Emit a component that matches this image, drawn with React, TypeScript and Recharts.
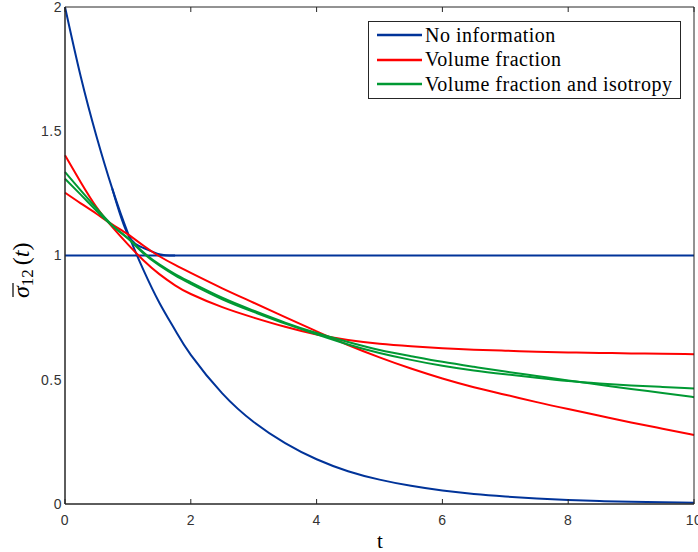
import { LineChart, Line, XAxis, YAxis, Legend } from 'recharts';

const tValues = [0, 0.25, 0.5, 0.75, 1, 1.25, 1.5, 1.75, 2, 2.5, 3, 3.5, 4, 4.5, 5, 5.5, 6, 6.5, 7, 7.5, 8, 8.5, 9, 9.5, 10];

// No information (blue)
const noInfoDecay = [2.0, 1.72, 1.48, 1.27, 1.09, 0.94, 0.81, 0.7, 0.6, 0.445, 0.33, 0.245, 0.18, 0.132, 0.098, 0.073, 0.054, 0.04, 0.03, 0.022, 0.016, 0.012, 0.009, 0.007, 0.005];
const noInfoFlat = [1, 1, 1, 1, 1, 1, 1, 1, 1, 1, 1, 1, 1, 1, 1, 1, 1, 1, 1, 1, 1, 1, 1, 1, 1];
const noInfoBranch = [null, null, null, 1.27, 1.085, 1.03, 1.005, 1.0, null, null, null, null, null, null, null, null, null, null, null, null, null, null, null, null, null];

// Volume fraction (red)
const volFracA = [1.403, 1.295, 1.195, 1.115, 1.045, 0.98, 0.925, 0.88, 0.845, 0.792, 0.75, 0.713, 0.682, 0.66, 0.645, 0.635, 0.627, 0.621, 0.617, 0.613, 0.61, 0.608, 0.606, 0.605, 0.603];
const volFracB = [1.253, 1.21, 1.168, 1.125, 1.085, 1.039, 0.997, 0.962, 0.93, 0.868, 0.81, 0.752, 0.695, 0.64, 0.59, 0.545, 0.505, 0.47, 0.44, 0.41, 0.382, 0.355, 0.328, 0.303, 0.278];

// Volume fraction and isotropy (green)
const isoA = [1.309, 1.245, 1.18, 1.12, 1.07, 1.012, 0.964, 0.925, 0.892, 0.83, 0.778, 0.73, 0.688, 0.652, 0.62, 0.595, 0.572, 0.552, 0.533, 0.515, 0.497, 0.48, 0.463, 0.447, 0.43];
const isoB = [1.336, 1.262, 1.19, 1.122, 1.068, 1.008, 0.96, 0.92, 0.886, 0.824, 0.773, 0.726, 0.683, 0.642, 0.608, 0.58, 0.556, 0.537, 0.522, 0.508, 0.495, 0.485, 0.477, 0.471, 0.465];

const xTicks = [0, 2, 4, 6, 8, 10];
const yTicks = [0, 0.5, 1, 1.5, 2];
const yTickLabels = ['0', '0.5', '1', '1.5', '2'];

const legendNames = ['No information', 'Volume fraction', 'Volume fraction and isotropy'];

const BLUE = '#003399';
const RED = '#ff0000';
const GREEN = '#009933';
const legendColors = [BLUE, RED, GREEN];

const AXIS = '#262626';

const data = tValues.map((t, i) => ({
  t,
  decay: noInfoDecay[i],
  flat: noInfoFlat[i],
  branch: noInfoBranch[i],
  redA: volFracA[i],
  redB: volFracB[i],
  greenA: isoA[i],
  greenB: isoB[i],
}));

const tickStyle = { fontFamily: '"Liberation Sans", Arial, sans-serif', fontSize: 14, fill: '#333', letterSpacing: 0.5 };
const tickLineStyle = { stroke: AXIS, strokeWidth: 1 };
const blank = () => '';
const THIN = 0.001; // tick-only axes: no room taken, but still rendered

function LegendBox() {
  return (
    <div
      style={{
        width: 313,
        height: 78,
        boxSizing: 'border-box',
        border: `1px solid ${AXIS}`,
        background: '#fff',
        paddingTop: 1,
      }}
    >
      {legendNames.map((name, i) => (
        <div key={name} style={{ height: 24.5, display: 'flex', alignItems: 'center' }}>
          <svg width={53} height={6} style={{ display: 'block' }}>
            <line x1={8} x2={53} y1={3} y2={3} stroke={legendColors[i]} strokeWidth={2.5} />
          </svg>
          <span
            style={{
              marginLeft: 3,
              fontFamily: '"Liberation Serif", "Times New Roman", serif',
              fontSize: 20,
              letterSpacing: 0.5,
              color: '#000',
              whiteSpace: 'nowrap',
            }}
          >
            {name}
          </span>
        </div>
      ))}
    </div>
  );
}

const renderYLabel = () => (
  <g transform="translate(29, 272) rotate(-90)">
    <line x1={-25} x2={-11} y1={-16} y2={-16} stroke="#000" strokeWidth={1.2} />
    <text x={-26} y={0} fontFamily='"Liberation Serif", "Times New Roman", serif' fontSize={24} fill="#000">
      <tspan fontStyle="italic">σ</tspan>
      <tspan fontSize={17} dy={4}>12</tspan>
      <tspan dy={-4} dx={4}>(</tspan>
      <tspan fontStyle="italic">t</tspan>
      <tspan>)</tspan>
    </text>
  </g>
);

const renderXLabel = () => (
  <text x={380} y={548} textAnchor="middle" fontFamily='"Liberation Serif", "Times New Roman", serif' fontSize={21} fill="#000">
    t
  </text>
);

export default function App() {
  return (
    <div style={{ position: 'absolute', left: 0, top: 0, width: 698, height: 552, background: '#fff' }}>
      <LineChart width={698} height={552} data={data} margin={{ top: 7, right: 4, bottom: 0, left: 0 }}>
        <XAxis
          dataKey="t"
          type="number"
          domain={[0, 10]}
          ticks={xTicks}
          interval={0}
          height={48}
          stroke={AXIS}
          tickLine={false}
          tickSize={0}
          tickMargin={11}
          tick={tickStyle}
          label={renderXLabel}
        />
        <YAxis
          type="number"
          domain={[0, 2]}
          ticks={yTicks}
          interval={0}
          tickFormatter={(v: number) => yTickLabels[yTicks.indexOf(v)] ?? String(v)}
          width={65}
          stroke={AXIS}
          tickLine={false}
          tickSize={0}
          tickMargin={3}
          tick={tickStyle}
          label={renderYLabel}
        />
        {/* inward tick marks on all four sides (MATLAB box) */}
        <XAxis
          xAxisId="bottomTicks"
          dataKey="t"
          type="number"
          domain={[0, 10]}
          ticks={xTicks}
          interval={0}
          height={THIN}
          mirror
          stroke={AXIS}
          tickLine={tickLineStyle}
          tickSize={5}
          tickFormatter={blank}
        />
        <XAxis
          xAxisId="top"
          orientation="top"
          dataKey="t"
          type="number"
          domain={[0, 10]}
          ticks={xTicks}
          interval={0}
          height={THIN}
          mirror
          stroke={AXIS}
          tickLine={tickLineStyle}
          tickSize={5}
          tickFormatter={blank}
        />
        <YAxis
          yAxisId="leftTicks"
          type="number"
          domain={[0, 2]}
          ticks={yTicks}
          interval={0}
          width={THIN}
          mirror
          stroke={AXIS}
          tickLine={tickLineStyle}
          tickSize={6}
          tickFormatter={blank}
        />
        <YAxis
          yAxisId="right"
          orientation="right"
          type="number"
          domain={[0, 2]}
          ticks={yTicks}
          interval={0}
          width={THIN}
          mirror
          stroke={AXIS}
          tickLine={tickLineStyle}
          tickSize={6}
          tickFormatter={blank}
        />
        <Legend
          layout="vertical"
          align="center"
          verticalAlign="middle"
          content={() => <LegendBox />}
          wrapperStyle={{ position: 'absolute', left: 368, top: 21, width: 313, height: 78 }}
        />
        <Line dataKey="flat" type="linear" stroke={BLUE} strokeWidth={2} dot={false} isAnimationActive={false} />
        <Line dataKey="decay" type="natural" stroke={BLUE} strokeWidth={2} dot={false} isAnimationActive={false} />
        <Line dataKey="branch" type="natural" stroke={BLUE} strokeWidth={2} dot={false} isAnimationActive={false} />
        <Line dataKey="redA" type="natural" stroke={RED} strokeWidth={2} dot={false} isAnimationActive={false} />
        <Line dataKey="redB" type="natural" stroke={RED} strokeWidth={2} dot={false} isAnimationActive={false} />
        <Line dataKey="greenA" type="natural" stroke={GREEN} strokeWidth={2} dot={false} isAnimationActive={false} />
        <Line dataKey="greenB" type="natural" stroke={GREEN} strokeWidth={2} dot={false} isAnimationActive={false} />
      </LineChart>
    </div>
  );
}
